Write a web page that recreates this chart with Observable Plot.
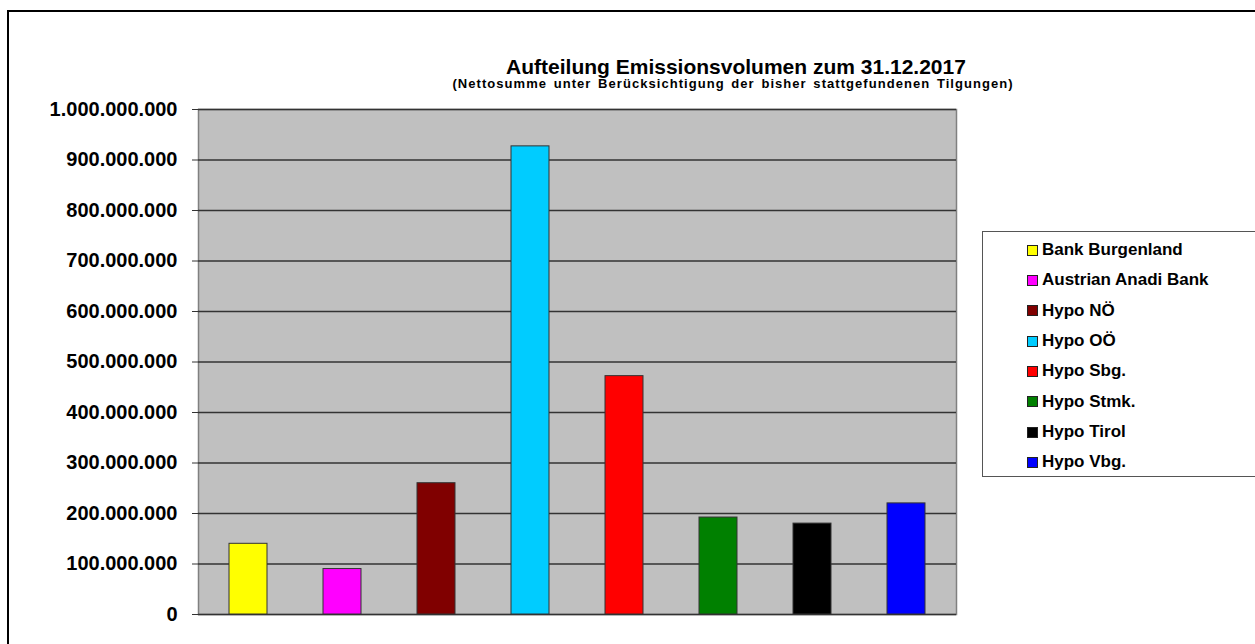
<!DOCTYPE html>
<html>
<head>
<meta charset="utf-8">
<script src="https://cdn.jsdelivr.net/npm/d3@7"></script>
<script src="https://cdn.jsdelivr.net/npm/@observablehq/plot@0.6"></script>
<style>
  html, body { margin: 0; padding: 0; background: #fff; overflow: hidden; }
  #wrap { position: relative; width: 1255px; height: 644px; overflow: hidden; font-family: "Liberation Sans", Arial, sans-serif; }
  #border { position: absolute; left: 7px; top: 10px; width: 1400px; height: 800px; border: 2px solid #000; box-sizing: border-box; }
  #chart { position: absolute; left: 0; top: 0; }
  #title { position: absolute; left: 436px; width: 600px; top: 56px; text-align: center; font-weight: bold; font-size: 21px; color: #000; line-height: 22px; }
  #subtitle { position: absolute; left: 333px; width: 800px; top: 77px; text-align: center; font-weight: bold; font-size: 13px; letter-spacing: 1.05px; word-spacing: 2px; color: #000; line-height: 14px; }
  #legend { position: absolute; left: 982px; top: 231px; width: 400px; height: 246px; border: 1px solid #555; box-sizing: border-box; background: #fff; }
  .item { position: absolute; left: 44px; height: 20px; display: flex; align-items: center; font-weight: bold; font-size: 17px; color: #000; white-space: nowrap; }
  .sw { width: 9px; height: 9px; border: 1px solid #222; margin-right: 4px; }
  #chart g[aria-label="y-axis tick label"] { font-size: 20px; font-weight: bold; }
</style>
</head>
<body>
<div id="wrap">
  <div id="border"></div>
  <div id="chart"></div>
  <div id="title"></div>
  <div id="subtitle"></div>
  <div id="legend"></div>
</div>
<script>
const titleText = "Aufteilung Emissionsvolumen zum 31.12.2017";
const subtitleText = "(Nettosumme unter Berücksichtigung der bisher stattgefundenen Tilgungen)";
const banks = ["Bank Burgenland", "Austrian Anadi Bank", "Hypo NÖ", "Hypo OÖ", "Hypo Sbg.", "Hypo Stmk.", "Hypo Tirol", "Hypo Vbg."];
const volumes = [140000000, 90000000, 260000000, 927000000, 472000000, 192000000, 180000000, 220000000];
const colors = ["#ffff00", "#ff00ff", "#800000", "#00ccff", "#ff0000", "#008000", "#000000", "#0000ff"];
const yTicks = [0, 100000000, 200000000, 300000000, 400000000, 500000000, 600000000, 700000000, 800000000, 900000000, 1000000000];

const data = banks.map((b, i) => ({bank: b, value: volumes[i]}));
const locale = d3.formatLocale({decimal: ",", thousands: ".", grouping: [3], currency: ["", "€"]});
const fmt = locale.format(",d");

const chart = Plot.plot({
  width: 1255,
  height: 644,
  marginLeft: 198,
  marginRight: 299,
  marginTop: 109,
  marginBottom: 30,
  style: {fontFamily: "'Liberation Sans', Arial, sans-serif", color: "#000", background: "transparent"},
  x: {domain: banks, paddingInner: 0.6, paddingOuter: 0.3, axis: null},
  y: {domain: [0, 1000000000]},
  color: {domain: banks, range: colors},
  marks: [
    Plot.frame({fill: "#c0c0c0", stroke: "#808080", strokeWidth: 1.5}),
    Plot.gridY(yTicks, {stroke: "#333", strokeOpacity: 1, strokeWidth: 1.5}),
    Plot.barY(data, {x: "bank", y: "value", fill: "bank", stroke: "#333", strokeWidth: 1}),
    Plot.ruleX([0], {frameAnchor: "left", stroke: "#555", strokeWidth: 1.5}),
    Plot.axisY(yTicks, {tickFormat: fmt, tickSize: 6, tickPadding: 15, stroke: "#333", fontSize: 20, fontWeight: "bold", fill: "#000", label: null})
  ]
});
document.getElementById("chart").appendChild(chart);
document.getElementById("title").textContent = titleText;
document.getElementById("subtitle").textContent = subtitleText;

const legend = document.getElementById("legend");
banks.forEach((b, i) => {
  const it = document.createElement("div");
  it.className = "item";
  it.style.top = (8 + i * 30.35) + "px";
  const sw = document.createElement("span");
  sw.className = "sw";
  sw.style.background = colors[i];
  const tx = document.createElement("span");
  tx.textContent = b;
  it.appendChild(sw);
  it.appendChild(tx);
  legend.appendChild(it);
});
</script>
</body>
</html>
